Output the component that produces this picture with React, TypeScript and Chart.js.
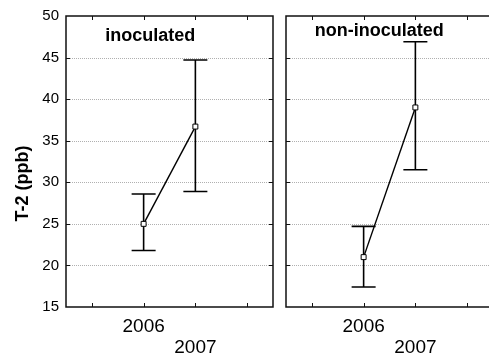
import React, { useEffect, useRef } from "react";
import { Chart, registerables } from "chart.js";

Chart.register(...registerables);

// ---- data ----
const years = ["2006", "2007"];
const yearPos = [1.5, 2.5];
const xTickPositions = [0.5, 1.5, 2.5, 3.5];
const yTickValues = [15, 20, 25, 30, 35, 40, 45, 50];
const yAxisTitle = "T-2 (ppb)";
const panelTitles = ["inoculated", "non-inoculated"];

const inocMean = [25.0, 36.7];
const inocLow = [21.8, 28.9];
const inocHigh = [28.6, 44.7];

const nonMean = [21.0, 39.0];
const nonLow = [17.4, 31.5];
const nonHigh = [24.7, 46.9];

const FONT = "'Liberation Sans', Arial, sans-serif";

type PanelCfg = {
  title: string;
  titleX: number; // data units
  titleY: number; // data units
  mean: number[];
  low: number[];
  high: number[];
  showYLabels: boolean;
  yAxisWidth: number;
  drawRightEdge: boolean;
};

function makePlugin(cfg: PanelCfg) {
  return {
    id: "panelDecor",
    beforeDatasetsDraw(chart: any) {
      const { ctx, chartArea: a, scales } = chart;
      const x = scales.x;
      const y = scales.y;
      ctx.save();
      // dotted horizontal grid lines
      ctx.strokeStyle = "#b0b0b0";
      ctx.lineWidth = 1;
      ctx.setLineDash([1, 1]);
      y.ticks.forEach((t: any) => {
        if (t.value <= y.min || t.value >= y.max) return;
        const py = Math.round(y.getPixelForValue(t.value)) + 0.5;
        ctx.beginPath();
        ctx.moveTo(a.left, py);
        ctx.lineTo(a.right, py);
        ctx.stroke();
      });
      ctx.setLineDash([]);
      // error bars
      ctx.strokeStyle = "#000";
      ctx.lineWidth = 1.6;
      cfg.low.forEach((lo, i) => {
        const px = x.getPixelForValue(yearPos[i]);
        const pl = y.getPixelForValue(lo);
        const ph = y.getPixelForValue(cfg.high[i]);
        ctx.beginPath();
        ctx.moveTo(px, pl);
        ctx.lineTo(px, ph);
        ctx.moveTo(px - 12, pl);
        ctx.lineTo(px + 12, pl);
        ctx.moveTo(px - 12, ph);
        ctx.lineTo(px + 12, ph);
        ctx.stroke();
      });
      ctx.restore();
    },
    afterDraw(chart: any) {
      const { ctx, chartArea: a, scales } = chart;
      const x = scales.x;
      const y = scales.y;
      ctx.save();
      ctx.strokeStyle = "#111";
      ctx.lineWidth = 1.5;
      // frame
      ctx.beginPath();
      if (cfg.drawRightEdge) {
        ctx.rect(a.left, a.top, a.right - a.left, a.bottom - a.top);
      } else {
        ctx.moveTo(a.right + 2, a.top);
        ctx.lineTo(a.left, a.top);
        ctx.lineTo(a.left, a.bottom);
        ctx.lineTo(a.right + 2, a.bottom);
      }
      ctx.stroke();
      // inner ticks
      ctx.lineWidth = 1;
      ctx.beginPath();
      x.ticks.forEach((t: any) => {
        const px = Math.round(x.getPixelForValue(t.value)) + 0.5;
        ctx.moveTo(px, a.bottom);
        ctx.lineTo(px, a.bottom - 4);
        ctx.moveTo(px, a.top);
        ctx.lineTo(px, a.top + 4);
      });
      y.ticks.forEach((t: any) => {
        if (t.value <= y.min || t.value >= y.max) return;
        const py = Math.round(y.getPixelForValue(t.value)) + 0.5;
        ctx.moveTo(a.left, py);
        ctx.lineTo(a.left + 4, py);
        if (cfg.drawRightEdge) {
          ctx.moveTo(a.right, py);
          ctx.lineTo(a.right - 4, py);
        }
      });
      ctx.stroke();
      // panel title
      ctx.fillStyle = "#000";
      ctx.font = `bold 18px ${FONT}`;
      ctx.textAlign = "center";
      ctx.textBaseline = "alphabetic";
      ctx.fillText(cfg.title, x.getPixelForValue(cfg.titleX), y.getPixelForValue(cfg.titleY));
      // y axis title
      if (cfg.showYLabels) {
        ctx.translate(28, 183.5);
        ctx.rotate(-Math.PI / 2);
        ctx.font = `bold 18px ${FONT}`;
        ctx.fillText(yAxisTitle, 0, 0);
      }
      ctx.restore();
    },
  };
}

function makeConfig(cfg: PanelCfg, padding: any): any {
  return {
    type: "line",
    data: {
      datasets: [
        {
          data: yearPos.map((xv, i) => ({ x: xv, y: cfg.mean[i] })),
          borderColor: "#000",
          borderWidth: 1.4,
          pointStyle: "rect",
          pointRadius: 3.5,
          pointBackgroundColor: "#fff",
          pointBorderColor: "#000",
          pointBorderWidth: 1,
          tension: 0,
        },
      ],
    },
    options: {
      responsive: false,
      animation: false,
      events: [],
      layout: { padding },
      plugins: { legend: { display: false }, tooltip: { enabled: false } },
      scales: {
        x: {
          type: "linear",
          min: 0,
          max: 4,
          afterBuildTicks: (s: any) => {
            s.ticks = xTickPositions.map((v) => ({ value: v }));
          },
          afterFit: (s: any) => {
            s.height = 50;
            s.paddingLeft = 0;
            s.paddingRight = 0;
          },
          grid: { display: false, drawTicks: false },
          border: { display: false },
          ticks: {
            autoSkip: false,
            maxRotation: 0,
            minRotation: 0,
            padding: 9,
            color: "#000",
            font: { family: FONT, size: 19, lineHeight: 1.1 },
            callback: (v: number) => {
              const idx = yearPos.indexOf(v);
              if (idx < 0) return "";
              return idx === 0 ? years[idx] : ["", years[idx]];
            },
          },
        },
        y: {
          type: "linear",
          min: 15,
          max: 50,
          afterBuildTicks: (s: any) => {
            s.ticks = yTickValues.map((v) => ({ value: v }));
          },
          afterFit: (s: any) => {
            s.width = cfg.yAxisWidth;
          },
          grid: { display: false, drawTicks: false },
          border: { display: false },
          ticks: {
            display: cfg.showYLabels,
            padding: 7,
            color: "#000",
            font: { family: FONT, size: 15 },
          },
        },
      },
    },
    plugins: [makePlugin(cfg)],
  };
}

function Panel(props: { cfg: PanelCfg; padding: any; left: number; width: number }) {
  const ref = useRef<HTMLCanvasElement | null>(null);
  useEffect(() => {
    if (!ref.current) return;
    const chart = new Chart(ref.current, makeConfig(props.cfg, props.padding));
    return () => chart.destroy();
  }, []);
  return (
    <canvas
      ref={ref}
      width={props.width}
      height={357}
      style={{ position: "absolute", left: props.left, top: 0, width: props.width, height: 357 }}
    />
  );
}

export default function App() {
  const leftCfg: PanelCfg = {
    title: panelTitles[0],
    titleX: 1.63,
    titleY: 47.0,
    mean: inocMean,
    low: inocLow,
    high: inocHigh,
    showYLabels: true,
    yAxisWidth: 66,
    drawRightEdge: true,
  };
  const rightCfg: PanelCfg = {
    title: panelTitles[1],
    titleX: 1.8,
    titleY: 47.65,
    mean: nonMean,
    low: nonLow,
    high: nonHigh,
    showYLabels: false,
    yAxisWidth: 6,
    drawRightEdge: false,
  };
  return (
    <div
      style={{
        position: "fixed",
        left: 0,
        top: 0,
        width: 489,
        height: 357,
        overflow: "hidden",
        background: "#fff",
      }}
    >
      <Panel cfg={leftCfg} padding={{ left: 0, right: 7, top: 16, bottom: 0 }} left={0} width={280} />
      <Panel cfg={rightCfg} padding={{ left: 0, right: 7, top: 16, bottom: 0 }} left={280} width={220} />
    </div>
  );
}
